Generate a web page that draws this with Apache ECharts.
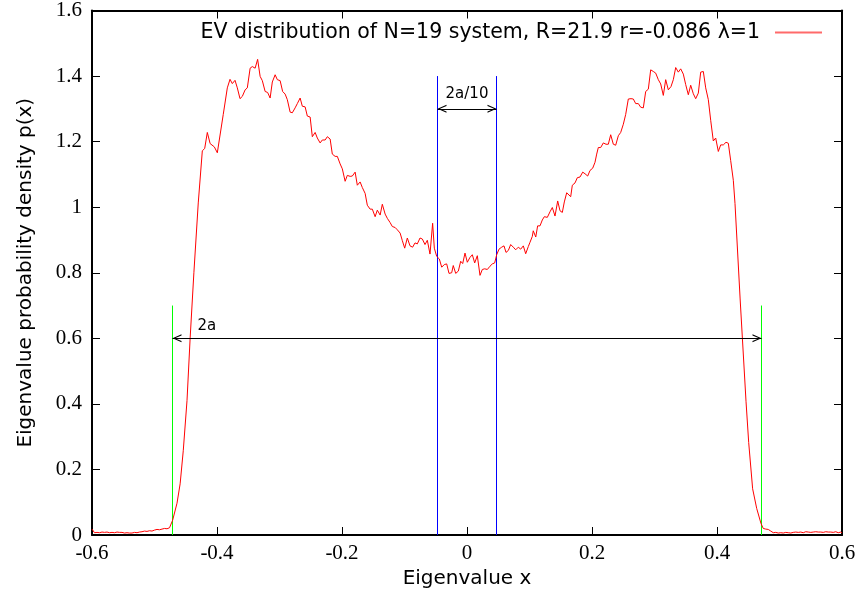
<!DOCTYPE html>
<html><head><meta charset="utf-8">
<script src="https://cdn.jsdelivr.net/npm/echarts@6/dist/echarts.min.js"></script>
<style>html,body{margin:0;padding:0;background:#fff}#c{width:861px;height:595px}</style>
</head><body><div id="c"></div>
<script>
// ---------- data ----------
const legendName = 'EV distribution of N=19 system, R=21.9 r=-0.086 \u03bb=1';
const xTitle = 'Eigenvalue x';
const yTitle = 'Eigenvalue probability density p(x)';
const xRange = [-0.6, 0.6], xStep = 0.2;
const yRange = [0, 1.6], yStep = 0.2;

const evX = [
-0.600,-0.596,-0.592,-0.588,-0.584,-0.580,-0.576,-0.572,-0.568,-0.564,-0.560,-0.556,-0.552,-0.548,-0.544,-0.540,
-0.536,-0.532,-0.528,-0.524,-0.520,-0.516,-0.512,-0.508,-0.504,-0.500,-0.496,-0.492,-0.488,-0.484,-0.480,-0.476,
-0.4736,-0.471,-0.464,-0.459,-0.454,-0.448,-0.443,-0.437,-0.430,-0.4235,-0.4197,-0.4155,-0.411,-0.4043,-0.3995,
-0.390,-0.3835,-0.3792,-0.3755,-0.3712,-0.3675,-0.3632,-0.3595,-0.355,-0.3515,-0.347,-0.3435,-0.339,-0.335,-0.331,
-0.3275,-0.323,-0.319,-0.315,-0.3115,-0.307,-0.3035,-0.299,-0.295,-0.291,-0.2875,-0.283,-0.2795,-0.275,-0.2715,
-0.267,-0.2635,-0.259,-0.2555,-0.251,-0.2475,-0.243,-0.2395,-0.235,-0.2315,-0.227,-0.2235,-0.219,-0.2155,-0.211,
-0.2075,-0.203,-0.1995,-0.195,-0.1915,-0.187,-0.1835,-0.179,-0.1755,-0.171,-0.1675,-0.163,-0.1595,-0.155,-0.1515,
-0.147,-0.1435,-0.139,-0.1355,-0.131,-0.1275,-0.123,-0.1195,-0.115,-0.1115,-0.107,-0.1035,-0.0997,-0.0955,-0.0912,
-0.087,-0.0832,-0.0795,-0.0752,-0.0715,-0.0672,-0.0635,-0.0592,-0.055,-0.0523,-0.0485,-0.0443,-0.0405,-0.0363,
-0.0325,-0.0288,-0.0245,-0.022,-0.0181,-0.0139,-0.0101,-0.0069,-0.0032,0.0005,0.0048,0.0085,0.0123,0.0165,0.0208,
0.0245,0.0283,0.0325,0.0368,0.0405,0.0443,0.0475,0.0512,0.0555,0.0592,0.0624,0.0661,0.0699,0.0741,0.0779,0.0821,
0.0859,0.0901,0.0939,0.0981,0.1008,0.1045,0.106,0.110,0.113,0.1168,0.1205,0.1237,0.1285,0.1328,0.1365,0.1408,
0.1451,0.1488,0.1525,0.1557,0.1595,0.1621,0.1659,0.1685,0.1728,0.1765,0.1808,0.1851,0.1888,0.1931,0.1968,0.2011,
0.2048,0.2075,0.2101,0.2139,0.2181,0.2224,0.2261,0.2299,0.2341,0.2379,0.2421,0.2459,0.2501,0.2539,0.2581,0.2624,
0.2661,0.2699,0.2741,0.2779,0.2821,0.2859,0.2901,0.2939,0.2981,0.3019,0.3061,0.3099,0.3141,0.3179,0.3221,0.3264,
0.3301,0.3339,0.3381,0.3419,0.3461,0.3499,0.3541,0.3579,0.3621,0.3659,0.3701,0.3739,0.3781,0.3819,0.3861,0.3899,
0.3941,0.3979,0.4021,0.4059,0.4101,0.4144,0.4181,0.4219,0.4261,0.4288,0.437,0.4464,0.4507,0.457,0.4635,0.4704,
0.474,0.478,0.482,0.486,0.490,0.494,0.498,0.502,0.506,0.510,0.514,0.518,0.522,0.526,0.530,0.534,0.538,0.542,
0.546,0.550,0.554,0.558,0.562,0.566,0.570,0.574,0.578,0.582,0.586,0.590,0.594,0.598,0.600
];
const evY = [
0.018,0.007,0.008,0.007,0.009,0.008,0.009,0.007,0.008,0.007,0.009,0.008,0.008,0.006,0.007,0.006,
0.006,0.008,0.007,0.009,0.010,0.012,0.011,0.013,0.012,0.015,0.017,0.016,0.018,0.020,0.019,0.022,
0.024,0.045,0.097,0.156,0.257,0.41,0.60,0.80,1.013,1.172,1.179,1.228,1.194,1.184,1.166,
1.283,1.364,1.390,1.377,1.387,1.364,1.331,1.338,1.358,1.364,1.424,1.429,1.424,1.451,1.399,
1.386,1.353,1.350,1.333,1.382,1.404,1.389,1.386,1.353,1.345,1.328,1.290,1.288,1.303,1.316,
1.333,1.308,1.306,1.278,1.275,1.215,1.228,1.211,1.196,1.205,1.205,1.215,1.208,1.162,1.155,
1.155,1.132,1.117,1.079,1.097,1.094,1.095,1.107,1.067,1.077,1.060,1.042,1.006,0.994,0.994,
0.971,0.991,0.976,1.009,0.979,0.966,0.953,0.941,0.938,0.931,0.921,0.898,0.875,0.906,0.882,
0.878,0.891,0.888,0.906,0.903,0.886,0.899,0.857,0.951,0.875,0.850,0.842,0.817,0.825,
0.827,0.798,0.800,0.822,0.798,0.805,0.835,0.828,0.860,0.832,0.847,0.855,0.830,0.852,0.792,
0.810,0.812,0.810,0.820,0.827,0.830,0.855,0.872,0.878,0.882,0.862,0.868,0.886,0.878,0.870,0.878,
0.872,0.882,0.858,0.880,0.893,0.911,0.928,0.909,0.943,0.943,0.961,0.971,0.969,0.986,0.999,0.973,
1.019,0.989,0.984,1.016,1.044,1.047,1.032,1.067,1.074,1.090,1.092,1.107,1.102,1.095,1.112,1.119,
1.137,1.162,1.182,1.182,1.196,1.192,1.192,1.221,1.192,1.189,1.218,1.228,1.253,1.283,1.330,1.331,
1.330,1.316,1.316,1.305,1.303,1.353,1.360,1.419,1.414,1.409,1.389,1.376,1.341,1.389,1.358,1.368,
1.389,1.426,1.412,1.422,1.406,1.374,1.343,1.372,1.346,1.331,1.348,1.412,1.414,1.364,1.328,1.265,
1.202,1.211,1.170,1.190,1.190,1.198,1.195,1.142,1.082,1.011,0.72,0.408,0.282,0.141,0.081,0.035,
0.020,0.018,0.017,0.012,0.007,0.008,0.006,0.007,0.006,0.008,0.007,0.006,0.008,0.009,0.008,0.009,0.007,0.010,
0.009,0.008,0.009,0.010,0.009,0.009,0.008,0.010,0.009,0.009,0.008,0.010,0.007,0.009,0.006
];
// annotation values
const edgeA = 0.4712;         // a : green edges at +-a
const edgeTop = 0.7;
const centreHalf = 0.0472;    // a/10 : blue lines at +-a/10
const centreTop = 1.4;
const arrowWideY = 0.6;
const arrowNarrowY = 1.3;
const labelWide = '2a';
const labelNarrow = '2a/10';

// ---------- chart ----------
const chart = echarts.init(document.getElementById('c'), null, {renderer: 'canvas'});
const serif = 'Liberation Serif', sans = 'DejaVu Sans';
// open arrow head, tip at the centre of the symbol box (tiny dot extends the box)
const arrowHead = 'path://M0,20L5,10L10,20L8.4,20L5,12.8L1.6,20ZM5,0L5.03,0.03L4.97,0.03Z';

function baseAxis(extra) {
  return Object.assign({
    type: 'value',
    splitLine: {show: false},
    axisLine: {show: true, onZero: false, lineStyle: {color: '#000', width: 2}},
    axisTick: {show: true, inside: true, length: 8, lineStyle: {color: '#000', width: 1}},
  }, extra);
}

function vLine(name, color, x, top) {
  return {
    name: name, type: 'line', xAxisIndex: 0, yAxisIndex: 0, silent: true,
    data: [[x, 0], [x, top]],
    symbol: 'none', showSymbol: false, color: color,
    lineStyle: {color: color, width: 1}, emphasis: {disabled: true}, z: 2
  };
}

function arrow(name, x0, x1, y, text, pos, dist) {
  return {
    name: name, type: 'line', data: [], xAxisIndex: 0, yAxisIndex: 0,
    markLine: {
      silent: true, animation: false,
      symbol: [arrowHead, arrowHead], symbolSize: [8, 18],
      lineStyle: {color: '#000', width: 1, type: 'solid'},
      itemStyle: {color: '#000'},
      emphasis: {disabled: true},
      label: {show: true, position: pos, distance: dist, formatter: text,
        fontFamily: sans, fontSize: 15, color: '#000'},
      data: [[{coord: [x0, y]}, {coord: [x1, y]}]]
    }
  };
}

const option = {
  animation: false,
  backgroundColor: '#fff',
  grid: {left: 92, right: 19, top: 5, bottom: 60, containLabel: false},
  legend: {
    show: true, right: 34, top: 17, align: 'right',
    itemWidth: 47, itemHeight: 2, itemGap: 0,
    data: [{name: legendName, icon: 'rect', itemStyle: {color: '#ff6a6a'}}],
    textStyle: {fontFamily: sans, fontSize: 20.5, color: '#000', padding: [0, 10, 0, 0]}
  },
  xAxis: [
    baseAxis({position: 'bottom', min: xRange[0], max: xRange[1], interval: xStep,
      name: xTitle, nameLocation: 'middle', nameGap: 32,
      nameTextStyle: {fontFamily: sans, fontSize: 20, color: '#000'},
      axisLabel: {fontFamily: serif, fontSize: 21, color: '#000', margin: 8, showMinLabel: true, showMaxLabel: true}}),
    baseAxis({position: 'top', min: xRange[0], max: xRange[1], interval: xStep, axisLabel: {show: false}})
  ],
  yAxis: [
    baseAxis({position: 'left', min: yRange[0], max: yRange[1], interval: yStep,
      name: yTitle, nameLocation: 'middle', nameGap: 56,
      nameTextStyle: {fontFamily: sans, fontSize: 20, color: '#000'},
      axisLabel: {fontFamily: serif, fontSize: 21, color: '#000', margin: 10}}),
    baseAxis({position: 'right', min: yRange[0], max: yRange[1], interval: yStep, axisLabel: {show: false}})
  ],
  series: [
    {
      name: legendName, type: 'line', xAxisIndex: 0, yAxisIndex: 0,
      data: evX.map((x, i) => [x, evY[i]]),
      symbol: 'none', showSymbol: false, smooth: false,
      color: '#ff0000', lineStyle: {color: '#ff0000', width: 1}, z: 3
    },
    vLine('edgeL', '#00ff00', -edgeA, edgeTop),
    vLine('edgeR', '#00ff00', edgeA, edgeTop),
    vLine('centreL', '#0000ff', -centreHalf, centreTop),
    vLine('centreR', '#0000ff', centreHalf, centreTop),
    arrow('arrowWide', -edgeA, edgeA, arrowWideY, labelWide, 'insideStartTop', [25, 5]),
    arrow('arrowNarrow', -centreHalf, centreHalf, arrowNarrowY, labelNarrow, 'insideMiddleTop', [0, 7])
  ]
};
chart.setOption(option);
</script>
</body></html>
